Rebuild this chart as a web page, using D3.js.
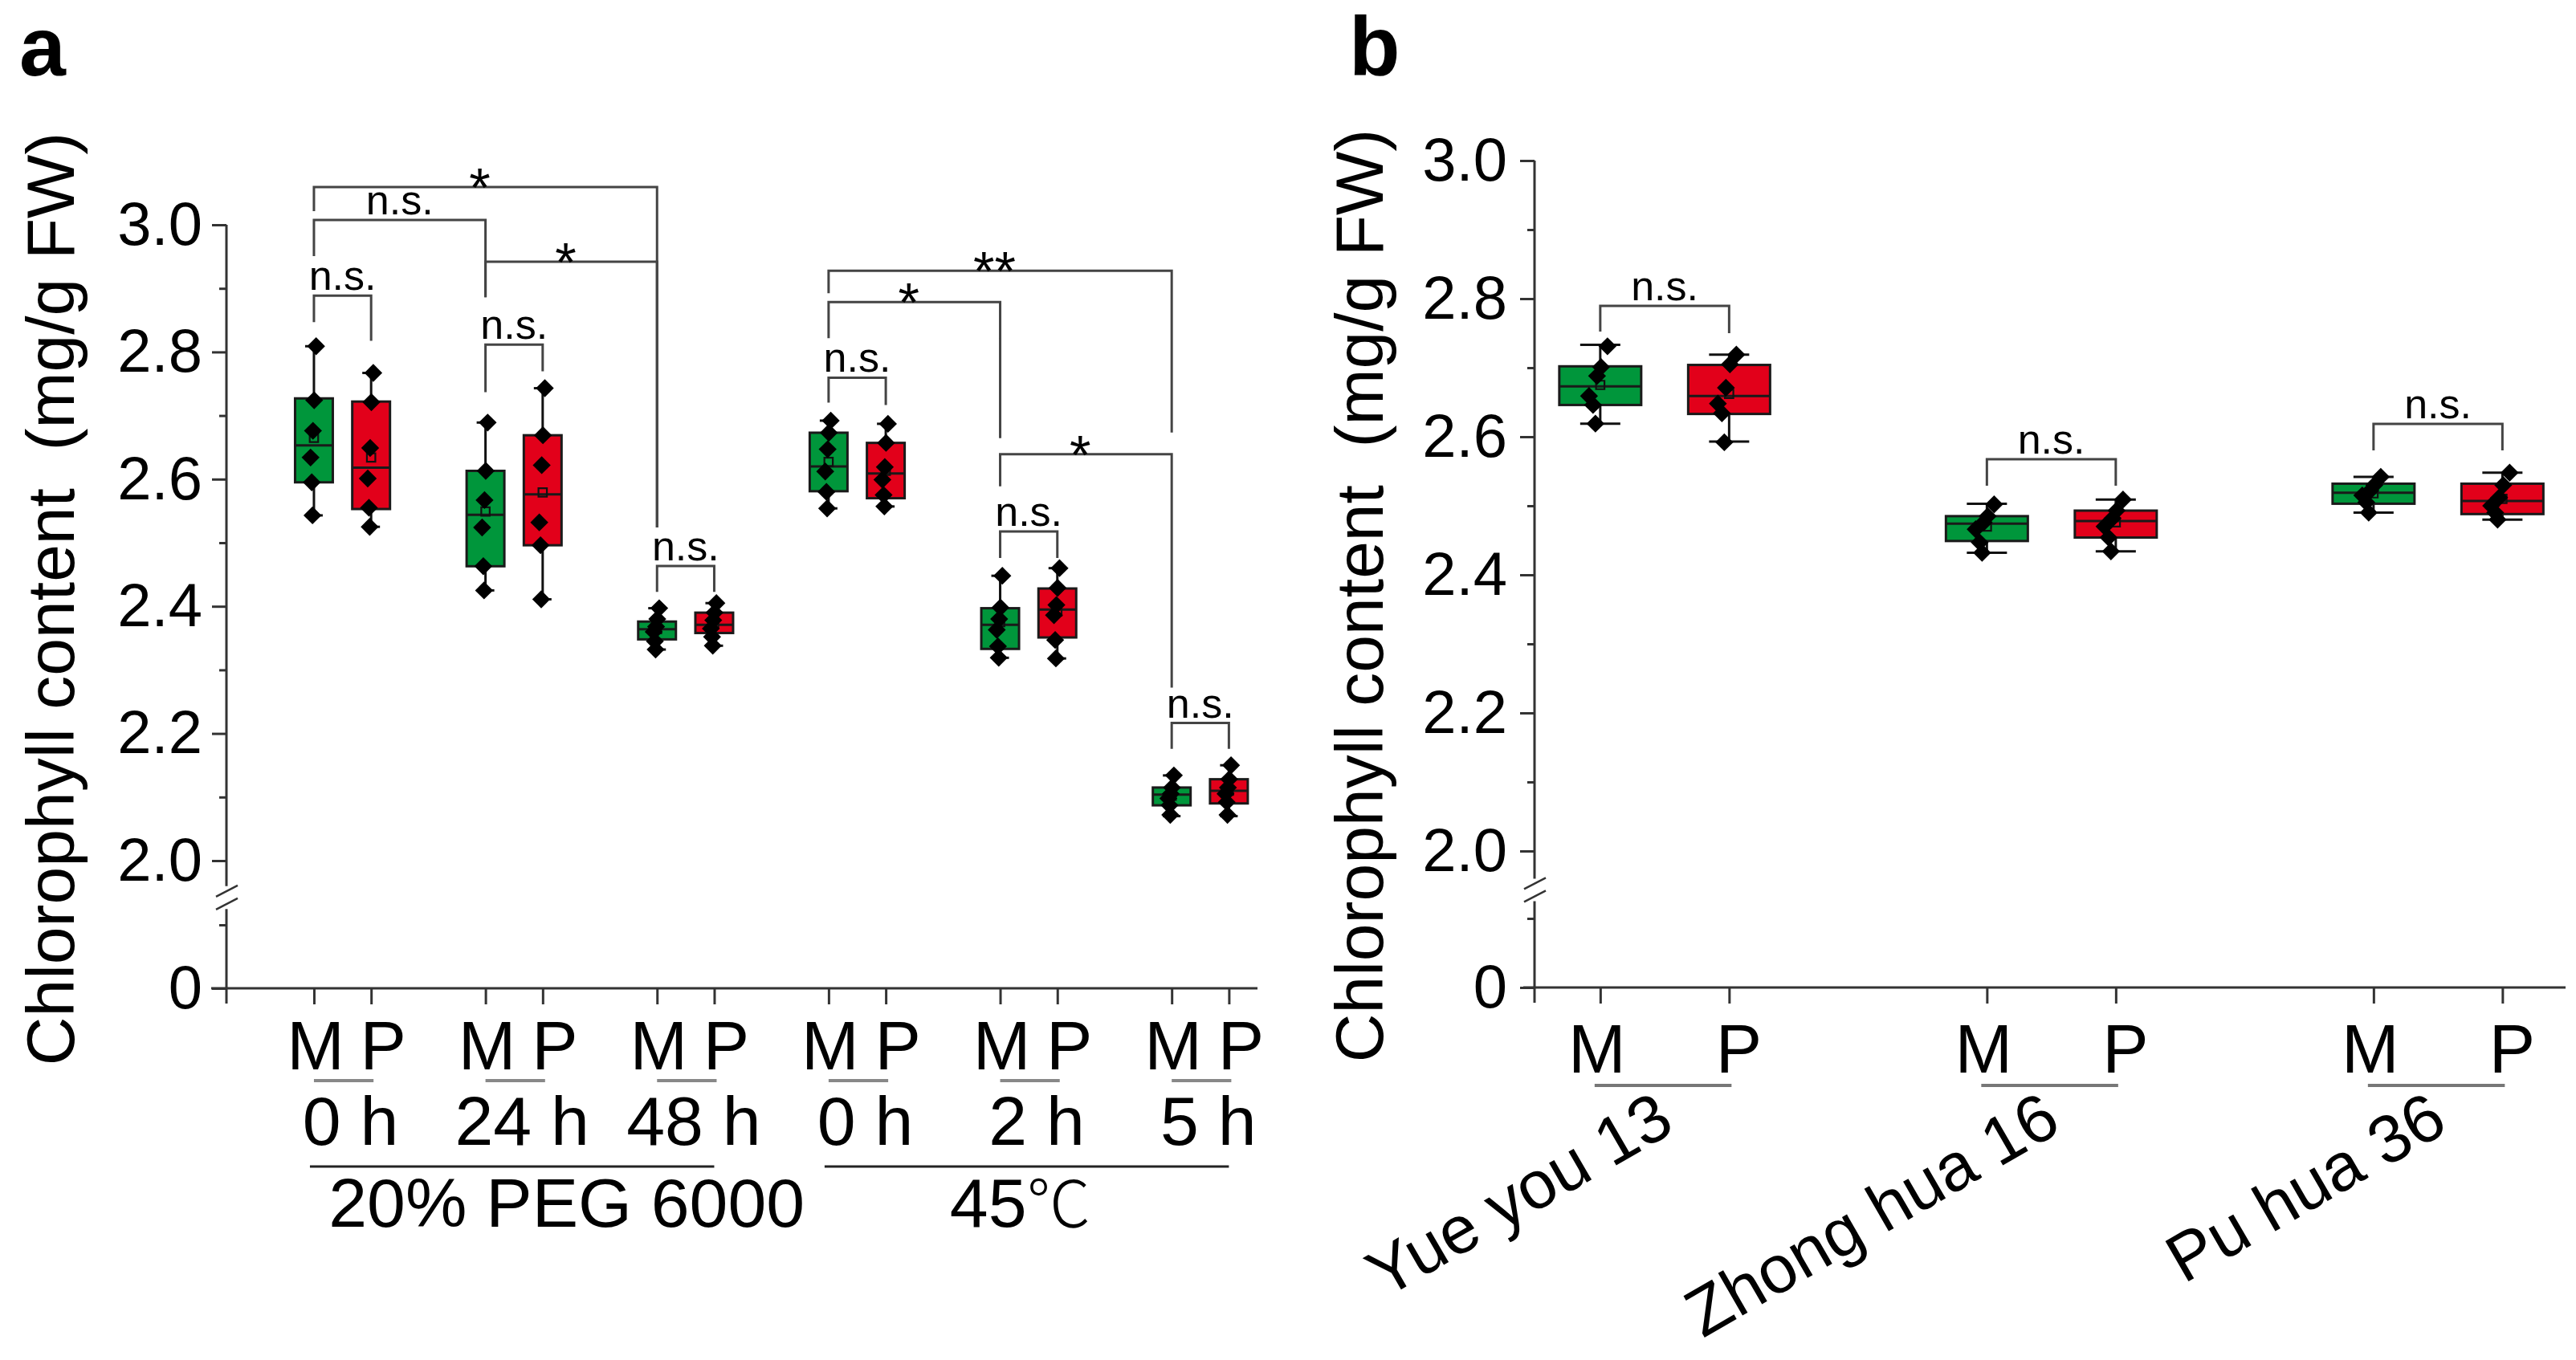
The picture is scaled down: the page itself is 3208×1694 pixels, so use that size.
<!DOCTYPE html>
<html>
<head>
<meta charset="utf-8">
<script src="https://cdn.jsdelivr.net/npm/d3@7"></script>
<style>
  body { margin: 0; background: #fff; }
  svg { display: block; font-family: "Liberation Sans", Arial, sans-serif; }
</style>
</head>
<body>
<div id="chart"></div>
<script>
// ---------------- data ----------------
const series = ["M", "P"];

// panel a : stress time course
const timeLabels = ["0 h", "24 h", "48 h", "0 h", "2 h", "5 h"];
const treatments = ["20% PEG 6000", "45\u2103"];
const treatmentSpan = [[0, 2], [3, 5]];

const aMinM  = [2.543, 2.425, 2.332, 2.554, 2.319, 2.070];
const aQ1M   = [2.595, 2.463, 2.348, 2.581, 2.333, 2.087];
const aMedM  = [2.653, 2.544, 2.364, 2.620, 2.371, 2.104];
const aQ3M   = [2.727, 2.613, 2.376, 2.673, 2.397, 2.115];
const aMaxM  = [2.809, 2.689, 2.397, 2.692, 2.448, 2.134];
const aMeanM = [2.665, 2.549, 2.364, 2.627, 2.375, 2.102];

const aMinP  = [2.525, 2.411, 2.338, 2.557, 2.318, 2.070];
const aQ1P   = [2.553, 2.496, 2.358, 2.570, 2.351, 2.090];
const aMedP  = [2.618, 2.576, 2.371, 2.609, 2.395, 2.110];
const aQ3P   = [2.722, 2.669, 2.390, 2.657, 2.428, 2.128];
const aMaxP  = [2.767, 2.743, 2.405, 2.687, 2.460, 2.150];
const aMeanP = [2.634, 2.579, 2.373, 2.613, 2.392, 2.110];

const aPtsM = [
  [2.809, 2.724, 2.676, 2.634, 2.595, 2.543],
  [2.689, 2.613, 2.567, 2.524, 2.463, 2.425],
  [2.397, 2.380, 2.368, 2.360, 2.345, 2.332],
  [2.692, 2.673, 2.647, 2.612, 2.580, 2.554],
  [2.448, 2.398, 2.380, 2.363, 2.337, 2.319],
  [2.134, 2.115, 2.105, 2.098, 2.087, 2.072]
];
const aPtsP = [
  [2.767, 2.721, 2.649, 2.601, 2.555, 2.525],
  [2.743, 2.669, 2.622, 2.532, 2.496, 2.411],
  [2.405, 2.390, 2.378, 2.365, 2.352, 2.338],
  [2.687, 2.657, 2.619, 2.599, 2.575, 2.557],
  [2.460, 2.429, 2.402, 2.386, 2.347, 2.318],
  [2.150, 2.128, 2.115, 2.105, 2.092, 2.072]
];

// significance brackets: [from slot, to slot, level, left leg end, right leg end, label]
const aBrackets = [
  [0, 6, 3.0595, 3.0215, 2.5241, "*"],
  [0, 3, 3.0076, 2.9506, 2.8861, "n.s."],
  [3, 6, 2.9418, 2.8861, 2.5241, "*"],
  [0, 1, 2.8886, 2.8468, 2.8177, "n.s."],
  [3, 4, 2.8114, 2.7367, 2.7696, "n.s."],
  [6, 7, 2.4633, 2.4228, 2.4228, "n.s."],
  [9, 15, 2.9278, 2.8924, 2.6734, "**"],
  [9, 12, 2.8785, 2.8215, 2.6646, "*"],
  [12, 15, 2.6392, 2.5886, 2.2722, "*"],
  [9, 10, 2.7595, 2.7203, 2.7165, "n.s."],
  [12, 13, 2.5177, 2.4759, 2.4759, "n.s."],
  [15, 16, 2.2165, 2.1759, 2.1759, "n.s."]
];

// panel b : cultivars
const cultivars = ["Yue you 13", "Zhong hua 16", "Pu hua 36"];

const bMinM  = [2.619, 2.432, 2.490];
const bQ1M   = [2.646, 2.449, 2.503];
const bMedM  = [2.673, 2.474, 2.519];
const bQ3M   = [2.702, 2.485, 2.532];
const bMaxM  = [2.733, 2.503, 2.542];
const bMeanM = [2.675, 2.470, 2.518];

const bMinP  = [2.593, 2.434, 2.480];
const bQ1P   = [2.633, 2.454, 2.488];
const bMedP  = [2.659, 2.478, 2.507];
const bQ3P   = [2.704, 2.493, 2.532];
const bMaxP  = [2.719, 2.509, 2.548];
const bMeanP = [2.662, 2.476, 2.510];

const bPtsM = [
  [2.731, 2.701, 2.688, 2.659, 2.646, 2.619],
  [2.502, 2.485, 2.476, 2.466, 2.447, 2.432],
  [2.542, 2.530, 2.522, 2.515, 2.505, 2.490]
];
const bPtsP = [
  [2.719, 2.705, 2.671, 2.648, 2.634, 2.592],
  [2.509, 2.493, 2.482, 2.470, 2.454, 2.434],
  [2.548, 2.530, 2.512, 2.500, 2.490, 2.480]
];

const bBrackets = [
  [0, 1, 2.7895, 2.7523, 2.7500, "n.s."],
  [3, 4, 2.5674, 2.5291, 2.5291, "n.s."],
  [6, 7, 2.6186, 2.5802, 2.5802, "n.s."]
];

const yMajor = [2.0, 2.2, 2.4, 2.6, 2.8, 3.0];
const yMinor = [2.1, 2.3, 2.5, 2.7, 2.9];

// ---------------- drawing ----------------
const W = 3208, H = 1694;
const colors = ["#00963b", "#e2001a"];
const axisCol = "#333";
const jitter = [9, 1, -4, -14, -9, -6];

const svg = d3.select("#chart").append("svg")
  .attr("xmlns", "http://www.w3.org/2000/svg")
  .attr("width", W).attr("height", H);

function stats(mn, q1, md, q3, mx, mean, pts) {
  return mn.map((v, i) => ({min: v, q1: q1[i], med: md[i], q3: q3[i], max: mx[i], mean: mean[i], pts: pts[i]}));
}

function drawYAxis(g, ax, yHi, yLo, pad) {
  // upper segment ticks
  g.append("g").attr("transform", `translate(${ax},0)`)
    .call(d3.axisLeft(yHi).tickValues(yMajor).tickSize(18).tickPadding(pad).tickFormat(d3.format(".1f")))
    .call(s => s.select(".domain").remove());
  g.append("g").attr("transform", `translate(${ax},0)`)
    .call(d3.axisLeft(yHi).tickValues(yMinor).tickSize(9).tickFormat(""))
    .call(s => s.select(".domain").remove());
  // lower segment
  g.append("g").attr("transform", `translate(${ax},0)`)
    .call(d3.axisLeft(yLo).tickValues([0]).tickSize(18).tickPadding(pad).tickFormat(d3.format("d")))
    .call(s => s.select(".domain").remove());
  g.append("g").attr("transform", `translate(${ax},0)`)
    .call(d3.axisLeft(yLo).tickValues([0.1]).tickSize(9).tickFormat(""))
    .call(s => s.select(".domain").remove());

  g.selectAll(".tick line").attr("stroke", axisCol).attr("stroke-width", 3);
  g.selectAll(".tick text").attr("font-size", 76).attr("fill", "#000")
    .attr("font-family", "'Liberation Sans', Arial, sans-serif");

  const yTop = yHi(3.0), yB1 = yHi(1.96), yB2 = yLo(0.125), yBot = yLo(0) + 19;
  g.append("line").attr("x1", ax).attr("x2", ax).attr("y1", yTop).attr("y2", yB1)
    .attr("stroke", axisCol).attr("stroke-width", 3);
  g.append("line").attr("x1", ax).attr("x2", ax).attr("y1", yB2).attr("y2", yBot)
    .attr("stroke", axisCol).attr("stroke-width", 3);
  // break marks
  const mid = (yB1 + yB2) / 2;
  [-8, 8].forEach(o => {
    g.append("line")
      .attr("x1", ax - 13).attr("y1", mid + o + 7)
      .attr("x2", ax + 14).attr("y2", mid + o - 7)
      .attr("stroke", axisCol).attr("stroke-width", 2.5);
  });
}

function drawXAxis(g, x, y0, xStart, xEnd, slots) {
  g.append("line").attr("x1", xStart).attr("x2", xEnd).attr("y1", y0).attr("y2", y0)
    .attr("stroke", axisCol).attr("stroke-width", 3);
  g.append("g").attr("transform", `translate(0,${y0})`)
    .call(d3.axisBottom(x).tickValues(slots).tickSize(20).tickFormat(""))
    .call(s => s.select(".domain").remove())
    .selectAll(".tick line").attr("stroke", axisCol).attr("stroke-width", 3);
}

function drawBoxes(g, x, y, data, s, halfW, capHalf, jitScale) {
  data.forEach((d, i) => {
    const cx = x(3 * i + s);
    g.append("line").attr("x1", cx).attr("x2", cx).attr("y1", y(d.max)).attr("y2", y(d.min))
      .attr("stroke", "#111").attr("stroke-width", 3);
    [d.max, d.min].forEach(v => {
      g.append("line").attr("x1", cx - capHalf).attr("x2", cx + capHalf).attr("y1", y(v)).attr("y2", y(v))
        .attr("stroke", "#111").attr("stroke-width", 3);
    });
    g.append("rect").attr("x", cx - halfW).attr("width", halfW * 2)
      .attr("y", y(d.q3)).attr("height", y(d.q1) - y(d.q3))
      .attr("fill", colors[s]).attr("stroke", "#1a1a1a").attr("stroke-width", 3);
    g.append("line").attr("x1", cx - halfW).attr("x2", cx + halfW).attr("y1", y(d.med)).attr("y2", y(d.med))
      .attr("stroke", "#1a1a1a").attr("stroke-width", 3);
    g.append("path").attr("d", d3.symbol(d3.symbolSquare, 110)())
      .attr("transform", `translate(${cx},${y(d.mean)})`)
      .attr("fill", "none").attr("stroke", "#111").attr("stroke-width", 2.2);
    d.pts.forEach((v, k) => {
      g.append("path").attr("d", d3.symbol(d3.symbolSquare, 250)())
        .attr("transform", `translate(${cx + jitter[k] * jitScale},${y(v)}) rotate(45)`)
        .attr("fill", "#000");
    });
  });
}

function drawBrackets(g, x, y, list) {
  list.forEach(([a, b, lvl, l1, l2, lab]) => {
    const x1 = x(a), x2 = x(b), yl = y(lvl);
    g.append("path")
      .attr("d", `M${x1},${y(l1)}V${yl}H${x2}V${y(l2)}`)
      .attr("fill", "none").attr("stroke", "#444").attr("stroke-width", 3);
    const star = lab.indexOf("*") === 0;
    g.append("text")
      .attr("x", (x1 + x2) / 2 - (star ? 7 : 0))
      .attr("y", star ? yl + 24 : yl - 7)
      .attr("text-anchor", "middle")
      .attr("font-size", star ? 68 : 52)
      .text(lab);
  });
}

function yTitle(g, xb, yc) {
  g.append("text")
    .attr("transform", `translate(${xb},${yc}) rotate(-90)`)
    .attr("text-anchor", "middle")
    .attr("font-size", 84)
    .style("white-space", "pre")
    .text("Chlorophyll content  (mg/g FW)");
}

// ---------- panel a ----------
const gA = svg.append("g");
const xA = d3.scaleLinear().domain([-1.53, 16.5]).range([282, 1566]);
const yA = d3.scaleLinear().domain([2.0, 3.0]).range([1072, 280]);
const yALo = d3.scaleLinear().domain([0, 0.2]).range([1231, 1073]);
const slotsA = d3.range(timeLabels.length).flatMap(i => [3 * i, 3 * i + 1]);

drawYAxis(gA, 282, yA, yALo, 12);
drawXAxis(gA, xA, yALo(0), 263, 1566, slotsA);
drawBrackets(gA, xA, yA, aBrackets);
drawBoxes(gA, xA, yA, stats(aMinM, aQ1M, aMedM, aQ3M, aMaxM, aMeanM, aPtsM), 0, 23.5, 11, 0.3);
drawBoxes(gA, xA, yA, stats(aMinP, aQ1P, aMedP, aQ3P, aMaxP, aMeanP, aPtsP), 1, 23.5, 11, 0.3);

timeLabels.forEach((t, i) => {
  const xm = xA(3 * i), xp = xA(3 * i + 1);
  gA.append("text").attr("x", xm + 2).attr("y", 1332).attr("text-anchor", "middle").attr("font-size", 86).text(series[0]);
  gA.append("text").attr("x", xp + 15).attr("y", 1332).attr("text-anchor", "middle").attr("font-size", 86).text(series[1]);
  gA.append("line").attr("x1", xm).attr("x2", xp + 3).attr("y1", 1346).attr("y2", 1346)
    .attr("stroke", "#888").attr("stroke-width", 4);
  gA.append("text").attr("x", (xm + xp) / 2 + 10).attr("y", 1426).attr("text-anchor", "middle")
    .attr("font-size", 86).style("white-space", "pre").text(t);
});

treatments.forEach((t, k) => {
  const [g0, g1] = treatmentSpan[k];
  const xa = xA(3 * g0) - 5, xb = xA(3 * g1 + 1);
  gA.append("line").attr("x1", xa).attr("x2", xb).attr("y1", 1453).attr("y2", 1453)
    .attr("stroke", "#222").attr("stroke-width", 3);
  const tx = gA.append("text").attr("y", 1528).attr("text-anchor", "middle").attr("font-size", 86);
  if (k === 0) {
    tx.attr("x", (xa + xb) / 2 + 68).text(t);
  } else {
    tx.attr("x", (xa + xb) / 2 - 8);
    tx.append("tspan").text(t.slice(0, 2));
    tx.append("tspan").attr("font-family", "'Noto Sans CJK SC', 'DejaVu Sans', sans-serif")
      .attr("font-weight", 300).attr("font-size", 80).text(t.slice(2));
  }
});

yTitle(gA, 92, 746);
gA.append("text").attr("x", 24).attr("y", 94).attr("font-size", 104).attr("font-weight", "bold").text("a");

// ---------- panel b ----------
const gB = svg.append("g");
const xB = d3.scaleLinear().domain([-0.51, 7.49]).range([1911, 3195]);
const yB = d3.scaleLinear().domain([2.0, 3.0]).range([1060, 200]);
const yBLo = d3.scaleLinear().domain([0, 0.2]).range([1230, 1058]);
const slotsB = d3.range(cultivars.length).flatMap(i => [3 * i, 3 * i + 1]);

drawYAxis(gB, 1911, yB, yBLo, 16);
drawXAxis(gB, xB, yBLo(0), 1897, 3195, slotsB);
drawBrackets(gB, xB, yB, bBrackets);
drawBoxes(gB, xB, yB, stats(bMinM, bQ1M, bMedM, bQ3M, bMaxM, bMeanM, bPtsM), 0, 51, 25, 1);
drawBoxes(gB, xB, yB, stats(bMinP, bQ1P, bMedP, bQ3P, bMaxP, bMeanP, bPtsP), 1, 51, 25, 1);

cultivars.forEach((c, i) => {
  const xm = xB(3 * i), xp = xB(3 * i + 1);
  gB.append("text").attr("x", xm - 4).attr("y", 1336).attr("text-anchor", "middle").attr("font-size", 86).text(series[0]);
  gB.append("text").attr("x", xp + 12).attr("y", 1336).attr("text-anchor", "middle").attr("font-size", 86).text(series[1]);
  gB.append("line").attr("x1", xm - 7).attr("x2", xp + 3).attr("y1", 1352).attr("y2", 1352)
    .attr("stroke", "#777").attr("stroke-width", 4);
  gB.append("text")
    .attr("transform", `translate(${(xm + xp) / 2 + 15},1408) rotate(-30)`)
    .attr("text-anchor", "end").attr("font-size", 84).text(c);
});

yTitle(gB, 1722, 742);
gB.append("text").attr("x", 1680).attr("y", 93).attr("font-size", 104).attr("font-weight", "bold").text("b");
</script>
</body>
</html>
